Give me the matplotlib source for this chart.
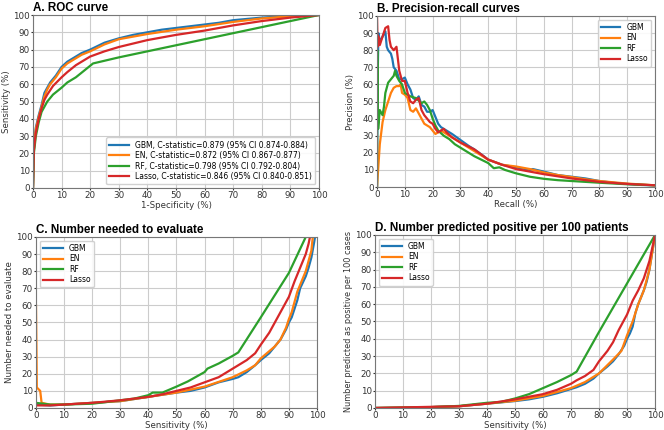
import matplotlib
matplotlib.use("Agg")
import matplotlib.pyplot as plt
import numpy as np

models = ["GBM", "EN", "RF", "Lasso"]
colors = ["#1f77b4", "#ff7f0e", "#2ca02c", "#d62728"]
roc_labels = [
    "GBM, C-statistic=0.879 (95% CI 0.874-0.884)",
    "EN, C-statistic=0.872 (95% CI 0.867-0.877)",
    "RF, C-statistic=0.798 (95% CI 0.792-0.804)",
    "Lasso, C-statistic=0.846 (95% CI 0.840-0.851)",
]

# ROC: (1-specificity %, sensitivity %)
roc_gbm_x = [0, 0.2, 0.5, 1, 2, 3, 4, 5, 6, 8, 10, 12, 15, 17, 20, 25, 30, 35, 40, 45, 50, 55, 60, 65, 70, 80, 90, 100]
roc_gbm_y = [0, 20, 28, 35, 42, 48, 55, 58, 61, 65, 70, 73, 76, 78, 80, 84, 86.5, 88.5, 90, 91.5, 92.5, 93.5, 94.5, 95.5, 97, 98.5, 99.5, 100]
roc_en_x = [0, 0.2, 0.5, 1, 2, 3, 4, 5, 6, 8, 10, 12, 15, 17, 20, 25, 30, 35, 40, 50, 60, 70, 80, 90, 100]
roc_en_y = [0, 19, 27, 34, 41, 47, 53, 57, 60, 64, 69, 72, 75, 77, 79, 83, 86, 87.5, 89, 91.5, 93.5, 96, 98, 99.3, 100]
roc_rf_x = [0, 0.3, 1, 2, 3, 4, 5, 7, 10, 12, 15, 18, 21, 30, 40, 50, 60, 70, 80, 90, 100]
roc_rf_y = [0, 20, 30, 38, 44, 47, 50, 54, 58, 61, 64, 68, 72, 75.5, 79, 82.5, 86, 89.5, 93, 96.5, 100]
roc_lasso_x = [0, 0.3, 1, 2, 3, 4, 5, 7, 10, 12, 15, 20, 25, 30, 35, 40, 50, 60, 70, 80, 90, 100]
roc_lasso_y = [0, 22, 32, 40, 46, 51, 54, 59, 64, 67, 71, 76, 79, 81.5, 83.5, 85.5, 88.5, 91, 94, 96.5, 98.5, 100]

# Precision-recall: (recall %, precision %)
pr_gbm_x = [0, 0.2, 0.5, 1, 2, 3, 3.5, 4, 5, 5.5, 6, 7, 8, 9, 10, 11, 12, 13, 14, 15, 16, 17, 18, 19, 20, 21, 22, 23, 25, 27, 30, 33, 35, 38, 40, 45, 50, 55, 56, 60, 65, 70, 75, 80, 85, 90, 95, 100]
pr_gbm_y = [0, 60, 90, 85, 88, 91, 82, 80, 78, 75, 70, 68, 63, 63, 64, 60, 57, 52, 51, 53, 48, 47, 44, 44, 45, 41, 37, 35, 33, 31, 27.5, 24, 22, 18.5, 16, 13, 11.5, 10, 10.5, 9, 7, 6, 5, 3.5, 2.5, 1.8, 1.2, 1]
pr_en_x = [0, 1, 2, 3, 4, 5, 6, 7, 8, 8.5, 9, 10, 11, 12, 13, 14, 15, 16, 17, 18, 19, 20, 21, 22, 23, 25, 27, 30, 35, 40, 45, 50, 55, 60, 65, 70, 75, 80, 90, 100]
pr_en_y = [0, 25, 38, 45, 50, 55, 58, 59, 59, 60, 55, 54, 52, 45, 44, 46, 43, 40, 37, 36, 35, 33, 31, 32, 33, 31, 29, 26, 21, 16, 13, 12, 10.5, 8.5, 7, 5.8, 4.5, 3.5, 2, 1]
pr_rf_x = [0, 0.1, 0.4, 1, 2, 2.5, 3, 4, 5, 6, 6.5, 7, 8, 9, 10, 12, 14, 16, 17, 18, 19, 20, 21, 22, 24, 26, 28, 30, 35, 40, 42, 44, 46, 50, 55, 60, 65, 70, 80, 90, 100]
pr_rf_y = [0, 80, 34, 45, 42, 47, 55, 61, 63, 65, 68, 65, 62, 60, 55, 53, 52, 49, 50, 48, 45, 40, 36, 33, 30, 28, 25, 23, 18, 14, 11, 11.5, 10, 8, 6, 4.8, 4, 3.5, 2.5, 1.6, 1]
pr_lasso_x = [0, 0.2, 0.5, 1, 2, 3, 4, 4.5, 5, 6, 7, 7.5, 8, 9, 10, 11, 12, 13, 14, 15, 16, 17, 18, 19, 20, 21, 22, 23, 24, 25, 27, 30, 35, 40, 45, 50, 55, 60, 70, 80, 90, 100]
pr_lasso_y = [100, 82, 88, 83, 88, 93, 94, 86, 82, 80, 82, 75, 68, 62, 62, 55, 50, 49, 51, 52, 45, 42, 40, 38, 37, 34, 32, 33, 34, 32, 29, 26, 22, 16, 13, 10.5, 9, 7.5, 5, 3, 1.8, 1]

# Number needed to evaluate vs sensitivity
nne_gbm_x = [0, 5, 10, 20, 30, 40, 50, 55, 60, 65, 70, 72, 75, 78, 80, 83, 85, 87, 89, 90, 91, 92, 93, 94, 96, 97, 98, 99, 99.3]
nne_gbm_y = [2, 1.5, 2, 3, 4, 6.5, 9, 10, 12, 15, 17, 18, 21, 25, 28, 32, 36, 40, 46, 50, 53, 58, 63, 70, 77, 82, 88, 97, 100]
nne_en_x = [0, 0.3, 1.5, 2, 5, 10, 20, 30, 40, 50, 60, 70, 75, 78, 80, 85, 87, 89, 90, 91, 92, 93, 94, 96, 97, 98, 98.5]
nne_en_y = [60, 12, 10, 3, 2, 2, 3, 4, 6.5, 9, 12.5, 18, 22, 25, 29, 36, 40, 47, 52, 56, 62, 68, 72, 80, 86, 92, 100]
nne_rf_x = [0, 5, 10, 20, 30, 35, 40, 41.5, 45, 50, 54, 60, 61, 65, 70, 72, 80, 90, 96]
nne_rf_y = [3, 2, 2, 2.5, 4.5, 5.5, 7.5, 9, 9, 12.5, 15.5, 21, 23, 26, 30.5, 32.5, 53, 79, 100]
nne_lasso_x = [0, 5, 10, 20, 30, 40, 45, 50, 55, 60, 65, 70, 72, 75, 78, 80, 83, 85, 87, 90, 92, 94, 96, 97, 97.5]
nne_lasso_y = [1.5, 1.5, 2, 3, 4.5, 6.5, 8, 10, 12, 15, 18, 23, 25, 28, 32, 37, 44, 50, 56, 65, 74, 82, 90, 96, 100]

# Number predicted positive per 100 vs sensitivity
npp_gbm_x = [0, 10, 20, 30, 40, 50, 55, 60, 65, 70, 72, 75, 78, 80, 83, 85, 87, 89, 90, 91, 92, 93, 94, 96, 97, 98, 99, 100]
npp_gbm_y = [0, 0.2, 0.5, 1, 2.5, 4, 5, 6.5, 8.5, 11, 12, 14, 17, 20, 24, 27, 31, 36, 40, 43, 47, 55, 60, 68, 73, 80, 90, 100]
npp_en_x = [0, 10, 20, 30, 40, 50, 60, 70, 75, 80, 85, 88, 90, 92, 94, 96, 98, 100]
npp_en_y = [0, 0.2, 0.5, 1, 2.5, 4.2, 7, 11.5, 15, 20, 28, 33, 42, 50, 60, 68, 80, 100]
npp_rf_x = [0, 20, 30, 40, 45, 50, 55, 60, 65, 70, 72, 80, 90, 100]
npp_rf_y = [0, 0.5, 1.2, 3, 3.5, 5.5, 8, 11.5, 15, 19, 21, 44, 72, 100]
npp_lasso_x = [0, 30, 40, 50, 60, 65, 70, 72, 75, 78, 80, 83, 85, 87, 90, 92, 94, 96, 98, 100]
npp_lasso_y = [0, 1, 2.5, 5, 8, 10.5, 14, 16, 18.5, 22, 27, 33, 38, 45, 54, 62, 68, 75, 85, 100]

fig = plt.figure(figsize=(6.64, 4.30), dpi=100)

def style(ax, xlabel, ylabel, title, ylabelsize=6.2):
    ax.set_xlim(0, 100)
    ax.set_ylim(0, 100)
    ax.set_xticks(np.arange(0, 101, 10))
    ax.set_yticks(np.arange(0, 101, 10))
    ax.grid(True, color="#cccccc", linewidth=0.8)
    ax.set_axisbelow(True)
    ax.tick_params(labelsize=6.3, length=1.5, pad=0.8, colors="#333333")
    ax.set_xlabel(xlabel, fontsize=6.2, labelpad=0.3, color="#333333")
    ax.set_ylabel(ylabel, fontsize=ylabelsize, labelpad=1.2, color="#333333")
    for s in ax.spines.values():
        s.set_color("#777777")
    ax.set_title(title, loc="left", fontsize=8.4, fontweight="bold",
                 family="Liberation Sans", pad=3)

axA = fig.add_axes([0.0497, 0.5628, 0.4307, 0.4023])
axB = fig.add_axes([0.5678, 0.5651, 0.4187, 0.3977])
axC = fig.add_axes([0.0542, 0.0512, 0.4232, 0.3977])
axD = fig.add_axes([0.5648, 0.0512, 0.4217, 0.4023])

roc = [(roc_gbm_x, roc_gbm_y), (roc_en_x, roc_en_y), (roc_rf_x, roc_rf_y), (roc_lasso_x, roc_lasso_y)]
pr = [(pr_gbm_x, pr_gbm_y), (pr_en_x, pr_en_y), (pr_rf_x, pr_rf_y), (pr_lasso_x, pr_lasso_y)]
nne = [(nne_gbm_x, nne_gbm_y), (nne_en_x, nne_en_y), (nne_rf_x, nne_rf_y), (nne_lasso_x, nne_lasso_y)]
npp = [(npp_gbm_x, npp_gbm_y), (npp_en_x, npp_en_y), (npp_rf_x, npp_rf_y), (npp_lasso_x, npp_lasso_y)]

for i in range(4):
    axA.plot(roc[i][0], roc[i][1], color=colors[i], lw=1.6, label=roc_labels[i])
    axB.plot(pr[i][0], pr[i][1], color=colors[i], lw=1.6, label=models[i])
    axC.plot(nne[i][0], nne[i][1], color=colors[i], lw=1.6, label=models[i])
    axD.plot(npp[i][0], npp[i][1], color=colors[i], lw=1.6, label=models[i])

style(axA, "1-Specificity (%)", "Sensitivity (%)", "A. ROC curve")
style(axB, "Recall (%)", "Precision (%)", "B. Precision-recall curves")
style(axC, "Sensitivity (%)", "Number needed to evaluate", "C. Number needed to evaluate")
style(axD, "Sensitivity (%)", "Number predicted as positive per 100 cases", "D. Number predicted positive per 100 patients", ylabelsize=5.9)

lkw = dict(fontsize=5.5, handlelength=2.6, borderpad=0.4, labelspacing=0.2, framealpha=0.9)
axA.legend(loc="lower right", **lkw)
axB.legend(loc="upper right", **lkw)
axC.legend(loc="upper left", **lkw)
axD.legend(loc="upper left", **lkw)

fig.savefig("out.png", dpi=100)
